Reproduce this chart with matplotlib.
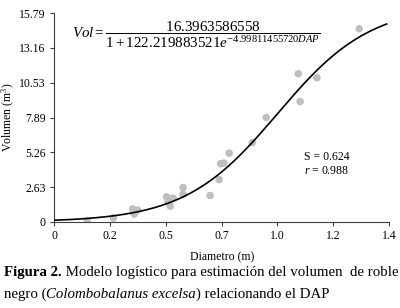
import numpy as np
import matplotlib
matplotlib.use("Agg")
import matplotlib.pyplot as plt

# Data
dap = [0.143, 0.255, 0.338, 0.345, 0.36, 0.484, 0.49, 0.50, 0.512, 0.555, 0.555,
       0.671, 0.71, 0.716, 0.73, 0.753, 0.852, 0.912, 1.05, 1.058, 1.13, 1.312]
vol = [0.05, 0.30, 0.98, 0.60, 0.90, 1.90, 1.50, 1.20, 1.80, 2.60, 2.10,
       2.00, 3.20, 4.40, 4.45, 5.20, 6.00, 7.90, 11.20, 9.10, 10.90, 14.60]

# Logistic model parameters
a_par = 16.3963586558
b_par = 122.219883521
c_par = 4.99811455720

x_ticks = [0, 0.24, 0.48, 0.72, 0.96, 1.2, 1.44]
x_labels = ["0", "0.2", "0.5", "0.7", "1.0", "1.2", "1.4"]
y_ticks = [0, 2.63, 5.26, 7.89, 10.53, 13.16, 15.79]
y_labels = ["0", "2.63", "5.26", "7.89", "10.53", "13.16", "15.79"]

plt.rcParams['mathtext.fontset'] = 'custom'
plt.rcParams['mathtext.rm'] = 'Liberation Serif'
plt.rcParams['mathtext.it'] = 'Liberation Serif:italic'
plt.rcParams['mathtext.bf'] = 'Liberation Serif:bold'
serif = 'Liberation Serif'

W, H = 400, 308
fig = plt.figure(figsize=(W / 100, H / 100), dpi=100)
ax = fig.add_axes([54 / W, 1 - 222 / H, (389 - 54) / W, (222 - 13) / H])

ax.scatter(dap, vol, s=30, color='#BFBFBF', edgecolors='none', zorder=2)
xx = np.linspace(0, 1.43, 300)
yy = a_par / (1 + b_par * np.exp(-c_par * xx))
ax.plot(xx, yy, color='black', lw=1.2, zorder=3)

ax.set_xlim(0, 1.44)
ax.set_ylim(0, 15.79)
ax.set_xticks(x_ticks)
ax.set_xticklabels(x_labels, fontfamily=serif, fontsize=8.5)
ax.set_yticks(y_ticks)
ax.set_yticklabels(y_labels, fontfamily=serif, fontsize=8.5)
ax.tick_params(direction='out', length=3, width=0.8, color='#404040', pad=3)
for s in ['top', 'right']:
    ax.spines[s].set_visible(False)
for s in ['left', 'bottom']:
    ax.spines[s].set_color('#404040')
    ax.spines[s].set_linewidth(0.8)

ax.set_xlabel('Diametro (m)', fontfamily=serif, fontsize=8.5)
ax.xaxis.set_label_coords((222 - 54) / (389 - 54), -(251 - 222) / (222 - 13))
ax.set_ylabel('Volumen (m$^3$)', fontfamily=serif, fontsize=8.5)
ax.yaxis.set_label_coords(-(54 - 17) / (389 - 54), 0.5)

fig.text(196 / W, 1 - 35 / H,
         r'$Vol = \dfrac{16.3963586558}{1 + 122.219883521e^{-4.99811455720DAP}}$',
         ha='center', va='center', fontsize=10.8)

fig.text(327 / W, 1 - 157 / H, 'S = 0.624', ha='center', va='center',
         fontfamily=serif, fontsize=8.5)
fig.text(327 / W, 1 - 171 / H, r'$r$ = 0.988', ha='center', va='center',
         fontfamily=serif, fontsize=8.5)

# Caption with mixed styles
fig.canvas.draw()
r = fig.canvas.get_renderer()

line1 = [("Figura 2.", dict(fontweight='bold')),
         (" Modelo logístico para estimación del volumen  de roble", {})]
line2 = [("negro (", {}), ("Colombobalanus excelsa", dict(style='italic')),
         (") relacionando el DAP", {})]

def seq(parts, x0, y0, fs):
    x = x0
    made = []
    for txt, kw in parts:
        t = fig.text(x / W, 1 - y0 / H, txt, ha='left', va='baseline',
                     fontfamily=serif, fontsize=fs, **kw)
        bb = t.get_window_extent(renderer=r)
        x = bb.x1
        made.append(t)
    return x, made

# fit the first caption line to the width seen in the reference
end, made = seq(line1, 4, 276, 10.0)
fs = 10.0 * (397 - 4) / (end - 4)
for t in made:
    t.remove()
seq(line1, 4, 276, fs)
seq(line2, 4, 298, fs)

fig.savefig('out.png', dpi=100)
